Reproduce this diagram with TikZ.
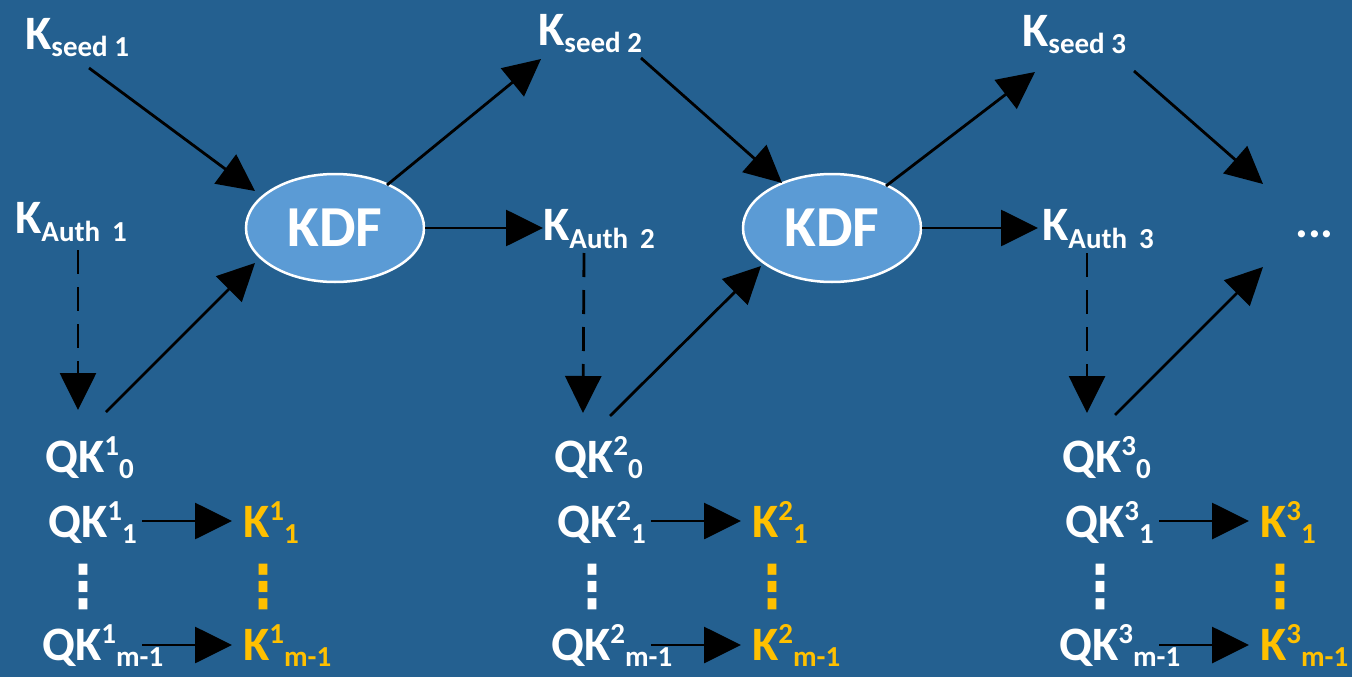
\documentclass[tikz,border=0pt]{standalone}
\usepackage{fontspec}
\usepackage{graphicx}
\setmainfont{Carlito}
\newfontfamily\symf{DejaVu Sans}
\usetikzlibrary{arrows.meta,calc,shapes.geometric}
\definecolor{bgblue}{RGB}{36,96,144}
\definecolor{kdffill}{RGB}{91,155,213}
\definecolor{keyyellow}{RGB}{255,192,0}
\newcommand\mainf{\fontsize{48}{56}\selectfont\bfseries}
\newcommand\smallf{\fontsize{29}{34}\selectfont\bfseries}
\newcommand\kdff{\fontsize{58}{64}\selectfont\bfseries}
\newcommand\dotf{\symf\fontsize{50}{54}\selectfont\bfseries}
\newcommand\lowsub[2][7pt]{\raisebox{-#1}{\smallf #2}}
\newcommand\highsup[1]{\raisebox{17pt}{\smallf #1}}
\newcommand\vdotsx{\scalebox{1}[1.18]{⋮}}
\begin{document}
\begin{tikzpicture}[x=1pt,y=-1pt,
  lbl/.style={inner sep=0pt, anchor=base west, text=white, font=\mainf},
  ylbl/.style={lbl, text=keyyellow},
  kdfbox/.style={ellipse, minimum width=178pt, minimum height=108pt, inner sep=0pt,
    fill=kdffill, draw=white, line width=2.5pt, text=white, font=\kdff},
  vdotnode/.style={inner sep=0pt, anchor=center, font=\dotf},
  arr/.style={-{Triangle[length=37pt,width=36pt]}, line width=2.8pt, black},
  darr/.style={arr, dash pattern=on 24pt off 13pt}]
\fill[bgblue] (0,0) rectangle (1352,677);
\useasboundingbox (0,0) rectangle (1352,677);

% top row labels
\node[lbl] (ks1) at (25,50) {K\lowsub{seed 1}};
\node[lbl] (ks2) at (538,46) {K\lowsub{seed 2}};
\node[lbl] (ks3) at (1022,47) {K\lowsub{seed 3}};
\node[lbl] (ka1) at (15,233) {K\lowsub[8pt]{Auth\hspace{12pt}1}};
\node[lbl] (ka2) at (543,240) {K\lowsub[8pt]{Auth\hspace{12pt}2}};
\node[lbl] (ka3) at (1042,240) {K\lowsub[8pt]{Auth\hspace{12pt}3}};
\node[lbl] (more) at (1295,237) {...};
\node[kdfbox] (kdf1) at (335,228) {KDF};
\node[kdfbox] (kdf2) at (832,228) {KDF};

% columns of quantum keys
\foreach \c/\o in {1/0,2/509,3/1017}{
  \node[lbl] (q0\c) at (45+\o,472) {QK\highsup{\c}\lowsub[6pt]{0}};
  \node[lbl] (q1\c) at (48+\o,537) {QK\highsup{\c}\lowsub[6pt]{1}};
  \node[vdotnode, text=white] (qd\c) at (83+\o,587) {\vdotsx};
  \node[lbl] (qm\c) at (42+\o,660) {QK\highsup{\c}\lowsub[6pt]{m-1}};
  \node[ylbl] (k1\c) at (243+\o,537) {K\highsup{\c}\lowsub[6pt]{1}};
  \node[vdotnode, text=keyyellow] (kd\c) at (263+\o,587) {\vdotsx};
  \node[ylbl] (km\c) at (243+\o,660) {K\highsup{\c}\lowsub[6pt]{m-1}};
  \draw[arr] ($(q1\c.base west)+(94,-16)$) -- ($(k1\c.base west)+(-11,-16)$);
  \draw[arr] ($(qm\c.base west)+(100,-15)$) -- ($(km\c.base west)+(-11,-15)$);
}

% stage 1
\draw[arr] ($(ks1.base west)+(64,18)$) -- ($(kdf1.center)+(-80,-37)$);
\draw[darr] ($(ka1.base west)+(63,17)$) -- ($(q01.base west)+(33,-62)$);
\draw[arr] ($(q01.base west)+(61,-60)$) -- ($(kdf1.center)+(-80,35)$);
\draw[arr] ($(kdf1.center)+(52,-43)$) -- ($(ks2.base west)+(3,13)$);
\draw[arr] (kdf1.east) -- ($(ka2.base west)+(0,-12)$);

% stage 2
\draw[arr] ($(ks2.base west)+(103,12)$) -- ($(kdf2.center)+(-50,-45)$);
\draw[darr] ($(ka2.base west)+(41,13)$) -- ($(q02.base west)+(29,-59)$);
\draw[arr] ($(q02.base west)+(56,-56)$) -- ($(kdf2.center)+(-71,38)$);
\draw[arr] ($(kdf2.center)+(54,-42)$) -- ($(ks3.base west)+(13,25)$);
\draw[arr] (kdf2.east) -- ($(ka3.base west)+(-4,-12)$);

% stage 3
\draw[arr] ($(ks3.base west)+(112,24)$) -- ($(more.base west)+(-32,-53)$);
\draw[darr] ($(ka3.base west)+(45,13)$) -- ($(q03.base west)+(25,-59)$);
\draw[arr] ($(q03.base west)+(53,-57)$) -- ($(more.base west)+(-32,30)$);
\end{tikzpicture}
\end{document}
